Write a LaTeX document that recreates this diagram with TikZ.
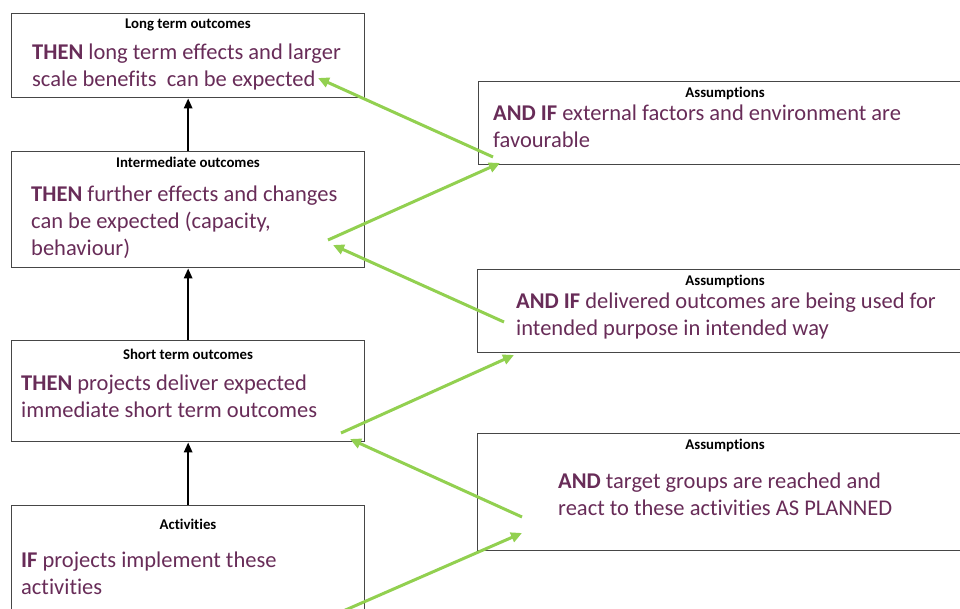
\documentclass[tikz,border=0pt]{standalone}
\usepackage{fontspec}
\setmainfont{Carlito}[Ligatures=NoCommon]
\usetikzlibrary{arrows.meta}
\definecolor{myplum}{RGB}{104,44,88}
\definecolor{mygreen}{RGB}{146,208,80}
\definecolor{myframe}{RGB}{70,70,70}

\begin{document}
\begin{tikzpicture}[%
  x=1pt, y=-1pt,
  box/.style={draw=myframe, line width=1.3pt, anchor=north west, inner sep=0pt},
  head/.style={font=\bfseries\fontsize{14.8}{16}\selectfont, inner sep=0pt},
  body/.style={font=\fontsize{22.5}{27}\selectfont, text=myplum, align=left,
    anchor=north west, inner sep=0pt},
  up/.style={-{Triangle[length=10pt,width=8pt]}, line width=2.6pt},
  link/.style={-{Triangle[length=11pt,width=10pt]}, line width=3pt, mygreen},
]

  \useasboundingbox (0,0) rectangle (960,609);
  \clip (0,0) rectangle (960,609);

  % left column
  \node[box, minimum width=353pt, minimum height=84pt] (lto) at (11,13) {};
  \node[box, minimum width=353pt, minimum height=116pt] (imo) at (11,151) {};
  \node[box, minimum width=353pt, minimum height=101pt] (sto) at (11,340) {};
  \node[box, minimum width=353pt, minimum height=120pt] (act) at (11,505) {};

  % right column
  \node[box, minimum width=495pt, minimum height=83pt] (as1) at (478,81) {};
  \node[box, minimum width=495pt, minimum height=83pt] (as2) at (477,269) {};
  \node[box, minimum width=495pt, minimum height=117pt] (as3) at (477,433) {};

  \node[head] (ltoh) at (188,24.5) {Long term outcomes};
  \node[head] (imoh) at (188,162.5) {Intermediate outcomes};
  \node[head] (stoh) at (188,354.5) {Short term outcomes};
  \node[head] (acth) at (188,524.5) {Activities};
  \node[head] (as1h) at (725,93.5) {Assumptions};
  \node[head] (as2h) at (725,281.5) {Assumptions};
  \node[head] (as3h) at (725,445.5) {Assumptions};

  \node[body] (ltot) at (32,44) {\textbf{THEN} long term effects and larger\\scale benefits\ \ can be expected};
  \node[body] (imot) at (31,186) {\textbf{THEN} further effects and changes\\can be expected (capacity,\\behaviour)};
  \node[body] (stot) at (21,375) {\textbf{THEN} projects deliver expected\\immediate short term outcomes};
  \node[body] (actt) at (21,552) {\textbf{IF} projects implement these\\activities};
  \node[body] (as1t) at (493,105) {\textbf{AND IF} external factors and environment are\\favourable};
  \node[body] (as2t) at (516,293) {\textbf{AND IF} delivered outcomes are being used for\\intended purpose in intended way};
  \node[body] (as3t) at (558,473) {\textbf{AND} target groups are reached and\\react to these activities AS PLANNED};

  \draw[up] (imo.north) -- (lto.south);
  \draw[up] (sto.north) -- (imo.south);
  \draw[up] (act.north) -- (sto.south);

  \coordinate (g1a) at (493,157);
  \coordinate (g1b) at (318,78);
  \coordinate (g2a) at (328,240);
  \coordinate (g2b) at (500,163);
  \coordinate (g3a) at (504,322);
  \coordinate (g3b) at (333,245);
  \coordinate (g4a) at (341,433);
  \coordinate (g4b) at (514,355);
  \coordinate (g5a) at (522,517);
  \coordinate (g5b) at (350,439);
  \coordinate (g6a) at (334,615);
  \coordinate (g6b) at (522,533);

  \draw[link] (g1a) -- (g1b);
  \draw[link] (g2a) -- (g2b);
  \draw[link] (g3a) -- (g3b);
  \draw[link] (g4a) -- (g4b);
  \draw[link] (g5a) -- (g5b);
  \draw[link] (g6a) -- (g6b);

\end{tikzpicture}
\end{document}
